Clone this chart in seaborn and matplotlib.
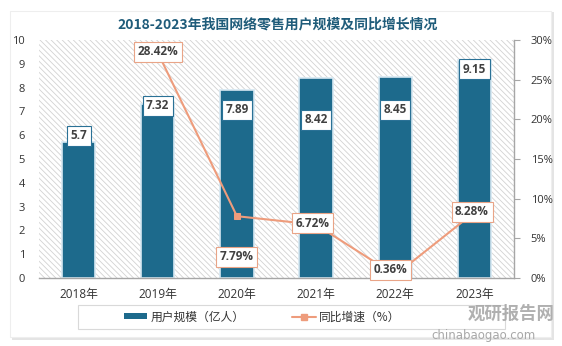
import numpy as np
import pandas as pd
import matplotlib
matplotlib.use("Agg")
import matplotlib.pyplot as plt
from matplotlib.patches import Rectangle, Patch
from matplotlib.lines import Line2D
import seaborn as sns

# ---- data ----
years = ["2018年", "2019年", "2020年", "2021年", "2022年", "2023年"]
users = [5.7, 7.32, 7.89, 8.42, 8.45, 9.15]          # 用户规模（亿人）
growth = [np.nan, 28.42, 7.79, 6.72, 0.36, 8.28]     # 同比增速（%）
left_ticks = list(range(0, 11))
right_ticks = [0, 5, 10, 15, 20, 25, 30]

# label placement (offsets from each value, for readability only)
bar_label_dy = [0.27, -0.09, -0.83, -1.78, -1.39, -0.37]
line_label_dy = [0, 0.07, -5.14, 0.21, 0.65, 0.04]
line_label_dx = [0, 0, 0, -0.04, -0.06, -0.03]

sns.set_theme(style="white")
plt.rcParams['font.family'] = ['Open Sans', 'Noto Sans CJK SC', 'DejaVu Sans']
plt.rcParams['hatch.color'] = '#d2d2d2'
plt.rcParams['hatch.linewidth'] = 0.6

W, H = 562, 346
fig = plt.figure(figsize=(W / 100, H / 100), dpi=100)
fig.patch.set_facecolor('white')

def fx(px):
    return px / W

def fy(py):
    return 1 - py / H

# panel with soft shadow
fig.patches.append(Rectangle((fx(12), fy(340)), fx(542), (328) / H, transform=fig.transFigure,
                             facecolor='#e4e4e4', edgecolor='none', zorder=-3))
fig.patches.append(Rectangle((fx(10), fy(337)), fx(541), (326) / H, transform=fig.transFigure,
                             facecolor='white', edgecolor='#eeeeee', lw=0.8, zorder=-2))

ax = fig.add_axes([fx(39), fy(278), fx(514 - 39), (278 - 40) / H])
ax.set_facecolor('none')
ax.set_zorder(2)

bar_color = '#1D6A8C'
line_color = '#EE9C7C'

df = pd.DataFrame({'year': years, 'users': users, 'growth': growth, 'pos': np.arange(len(years))})

# hatched plot background
ax.add_patch(Rectangle((0, 0), 1, 1, transform=ax.transAxes, facecolor='white',
                       edgecolor='#d2d2d2', lw=0, hatch='\\\\\\\\\\\\', zorder=0))

sns.barplot(data=df, x='year', y='users', color=bar_color, width=0.42, ax=ax,
            edgecolor='#d6e8f2', linewidth=1.2, saturation=1, zorder=2)
ax.set_ylim(0, 10)
ax.set_xlim(-0.5, 5.5)
ax.set_yticks(left_ticks)
ax.set_yticklabels([str(t) for t in left_ticks])
ax.set_xlabel('')
ax.set_ylabel('')
ax.tick_params(axis='y', length=0, pad=10, labelsize=8, labelcolor='#333333')
ax.tick_params(axis='x', length=0, pad=7, labelsize=8.5, labelcolor='#333333')
for s in ['left', 'top', 'right']:
    ax.spines[s].set_visible(False)
ax.spines['bottom'].set_color('#a6a6a6')
ax.spines['bottom'].set_linewidth(1)

for i, v in enumerate(users):
    ax.text(i, v + bar_label_dy[i], f"{v:g}", ha='center', va='center', fontsize=8.5,
            fontweight='bold', color='#404040', zorder=6,
            bbox=dict(boxstyle='square,pad=0.3', fc='white', ec='#2a7196', lw=0.8))

ax2 = ax.twinx()
ax2.set_facecolor('none')
ax2.set_zorder(3)
sns.lineplot(data=df, x='pos', y='growth', ax=ax2, color=line_color, lw=1.5,
             marker='s', markersize=5, markeredgecolor=line_color, zorder=4)
ax2.set_ylim(0, 30)
ax2.set_xlim(-0.5, 5.5)
ax2.set_yticks(right_ticks)
ax2.set_yticklabels([f"{t}%" for t in right_ticks])
ax2.set_ylabel('')
ax2.set_xlabel('')
ax2.tick_params(axis='y', length=4, width=0.8, color='#a6a6a6', direction='out', pad=8,
                labelsize=8, labelcolor='#333333')
for s in ['left', 'top', 'bottom']:
    ax2.spines[s].set_visible(False)
ax2.spines['right'].set_color('#a6a6a6')
ax2.spines['right'].set_linewidth(1)

for i, g in enumerate(growth):
    if np.isnan(g):
        continue
    ax2.text(i + line_label_dx[i], g + line_label_dy[i], f"{g:.2f}%", ha='center', va='center',
             fontsize=8.5, fontweight='bold', color='#404040', zorder=7,
             bbox=dict(boxstyle='square,pad=0.3', fc='white', ec='#E9A487', lw=0.8))

# title
fig.text(fx(278), fy(25), "2018-2023年我国网络零售用户规模及同比增长情况", ha='center', va='center',
         fontsize=10, fontweight='bold', color='#1F5C7A',
         family=['Noto Sans CJK SC', 'DejaVu Sans'])

# legend box
fig.patches.append(Rectangle((fx(78), fy(329)), fx(427), 24 / H, transform=fig.transFigure,
                             facecolor='white', edgecolor='#d9d9d9', lw=0.8, zorder=-1))
handles = [Patch(facecolor=bar_color, edgecolor='none'),
           Line2D([0], [0], color=line_color, lw=1.5, marker='s', markersize=4)]
leg = fig.legend(handles, ["用户规模（亿人）", "同比增速（%）"], loc='center',
                 bbox_to_anchor=(fx(262), fy(317)), ncol=2, frameon=False,
                 handlelength=2.0, handleheight=0.45, columnspacing=4.0, handletextpad=0.3,
                 prop={'family': ['Noto Sans CJK SC', 'DejaVu Sans'], 'size': 8.5})
for t in leg.get_texts():
    t.set_color('#333333')

# watermark
fig.text(fx(511), fy(314), "观研报告网", ha='center', va='center', fontsize=12.5, fontweight='bold',
         color='#a8a8a8', family=['Noto Sans CJK SC', 'DejaVu Sans'], alpha=0.9)
fig.text(fx(484), fy(335), "chinabaogao.com", ha='center', va='center', fontsize=8.5,
         color='#a8a8a8', family=['DejaVu Sans'])

fig.savefig('out.png', dpi=100)
